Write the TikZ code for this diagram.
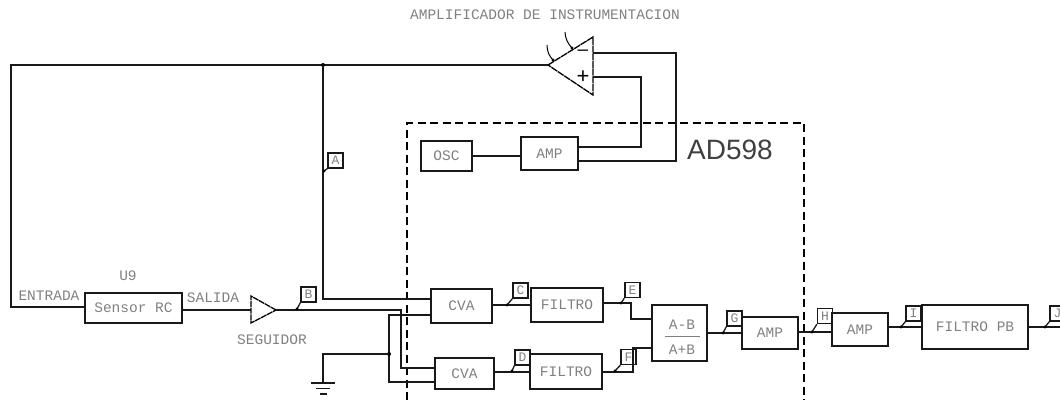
\documentclass[tikz,border=0pt]{standalone}
\usepackage{fontspec}
\setmainfont{Liberation Sans}
\setmonofont{Liberation Mono}
\tikzset{
    wire/.style={line width=1.3pt, black!90},
    block/.style={draw=black!90, line width=1.4pt, inner sep=0pt, text=black!50,
        font=\fontsize{14.5}{15}\selectfont\ttfamily},
    tag/.style={inner sep=0pt, text=black!50, font=\fontsize{14.5}{15}\selectfont\ttfamily},
    probebox/.style={block, minimum width=15, minimum height=15, font=\fontsize{13}{13}\selectfont\ttfamily},
}
\newcommand{\probe}[5]{%
    \node[probebox] (#1) at (#2,#3) {#4};
    \coordinate (#1t) at #5;
    \draw[wire] (#1.south west) -- (#1t);
    \fill (#1t) circle (1.7);
}
\begin{document}
\begin{tikzpicture}[x=1pt, y=-1pt]
    \useasboundingbox (0,0) rectangle (1060,400);

    \node[tag] (titulo) at (545,15) {AMPLIFICADOR DE INSTRUMENTACION};
    \node[tag] (u9) at (128,276) {U9};
    \node[tag] (entrada) at (49,296) {ENTRADA};
    \node[tag] (salida) at (213,298) {SALIDA};
    \node[tag] (seguidor) at (272,340) {SEGUIDOR};
    \node[inner sep=0pt, text=black!75, font=\fontsize{28}{28}\selectfont] (ad) at (730,150) {AD598};

    % bloques
    \node[block, minimum width=97, minimum height=30] (sensor) at (133.5,308) {Sensor RC};
    \node[block, minimum width=51, minimum height=30] (osc) at (446.5,156) {OSC};
    \node[block, minimum width=57, minimum height=33] (ampa) at (549.5,153.5) {AMP};
    \node[block, minimum width=61, minimum height=34] (cvaa) at (461.5,306) {CVA};
    \node[block, minimum width=59, minimum height=31] (cvab) at (464.5,373.5) {CVA};
    \node[block, minimum width=72, minimum height=34] (filtroa) at (567,305) {FILTRO};
    \node[block, minimum width=72, minimum height=35] (filtrob) at (566,371.5) {FILTRO};
    \node[block, minimum width=55, minimum height=56] (resta) at (679.5,333) {};
    \node[tag] (restan) at (682,325) {A-B};
    \node[tag] (restad) at (682,350) {A+B};
    \node[block, minimum width=56, minimum height=32] (ampb) at (770,333) {AMP};
    \node[block, minimum width=56, minimum height=33] (ampc) at (860,329.5) {AMP};
    \node[block, minimum width=106, minimum height=44] (filtropb) at (975,327) {FILTRO PB};
    \draw[black!50, line width=0.8pt] (665,336) -- (700,336);

    % amplificador
    \coordinate (optip) at (548,65);
    \coordinate (opsup) at (593,37);
    \coordinate (opinf) at (593,95);
    \coordinate (opmenos) at (593,53);
    \coordinate (opmas) at (593,77);
    \draw[line width=1.3pt, dash pattern=on 7 off 0.7] (optip) -- (opsup) -- (opinf) -- cycle;
    \node[inner sep=0pt, font=\fontsize{19}{19}\selectfont] (menos) at (583,53) {--};
    \node[inner sep=0pt, font=\fontsize{22}{22}\selectfont] (mas) at (583,77) {+};
    \draw[line width=1pt] (553,60) .. controls (549,56) and (547,51) .. (547,45);
    \draw[line width=1pt] (572,48) .. controls (568,44) and (565,38) .. (565,32);
    \fill (572,48) circle (1.7);
    \fill (553,60) circle (1.7);

    % seguidor
    \coordinate (segtip) at (276,310);
    \coordinate (segsup) at (251,296);
    \coordinate (seginf) at (251,323);
    \draw[line width=1.3pt, dash pattern=on 6 off 0.7] (segtip) -- (segsup) -- (seginf) -- cycle;

    % AD598
    \draw[line width=1.2pt, dash pattern=on 8 off 4.5] (407,400) -- (407,123) -- (804,123) -- (804,400);

    % conexiones
    \coordinate (nudoa) at (323,65);
    \coordinate (nudob) at (389,354);
    \draw[wire] (sensor.west |- 0,307) -- (11,307) -- (11,65) -- (nudoa) -- (optip);
    \fill (nudoa) circle (2);
    \draw[wire] (nudoa) -- (323,299) -- (cvaa.west |- 0,299);
    \draw[wire] (sensor.east |- 0,310) -- (segsup |- 0,310);
    \draw[wire] (segtip) -- (401,310) -- (401,368) -- (cvab.west |- 0,368);
    \draw[wire] (cvaa.west |- 0,315) -- (389,315) -- (389,382) -- (cvab.west |- 0,382);
    \fill (nudob) circle (2);
    \coordinate (tierra) at (323,383);
    \draw[wire] (nudob) -- (323,354) -- (tierra);
    \draw[wire] ([xshift=-12]tierra) -- ([xshift=12]tierra);
    \draw[wire] ([xshift=-7,yshift=-5.5]tierra) -- ([xshift=7,yshift=-5.5]tierra);
    \draw[wire] ([xshift=-3.5,yshift=-11]tierra) -- ([xshift=3.5,yshift=-11]tierra);
    \draw[wire] (osc.east) -- (ampa.west |- osc.east);
    \draw[wire] (ampa.east |- 0,147) -- (641,147) -- (641,77) -- (opmas);
    \draw[wire] (ampa.east |- 0,161) -- (676,161) -- (676,53) -- (opmenos);
    \draw[wire] (cvaa.east |- 0,305) -- (filtroa.west |- 0,305);
    \draw[wire] (cvab.east |- 0,372) -- (filtrob.west |- 0,372);
    \draw[wire] (filtroa.east |- 0,303) -- (631,303) -- (631,319) -- (resta.west |- 0,319);
    \draw[wire] (filtrob.east |- 0,372) -- (633,372) -- (633,348) -- (resta.west |- 0,348);
    \draw[wire] (resta.east |- 0,333) -- (ampb.west |- 0,333);
    \draw[wire] (ampb.east |- 0,332) -- (ampc.west |- 0,332);
    \draw[wire] (ampc.east |- 0,327) -- (filtropb.west |- 0,327);
    \draw[wire] (filtropb.east |- 0,327) -- (1060,327);

    % puntas
    \probe{pa}{335.5}{160.5}{A}{(324,171)}
    \probe{pb}{308.5}{294.5}{B}{(297,309)}
    \probe{pc}{520.5}{290.5}{C}{(507,305)}
    \probe{pd}{522.5}{357.5}{D}{(512,371)}
    \probe{pe}{632.5}{290}{E}{(621,303)}
    \probe{pf}{628.5}{357}{F}{(615,371)}
    \probe{pg}{734.5}{318.5}{G}{(723,333)}
    \probe{ph}{825}{316}{H}{(812,332)}
    \probe{pi}{913.5}{313.5}{I}{(901,327)}
    \probe{pj}{1057.5}{313.5}{J}{(1045,327)}
\end{tikzpicture}
\end{document}
